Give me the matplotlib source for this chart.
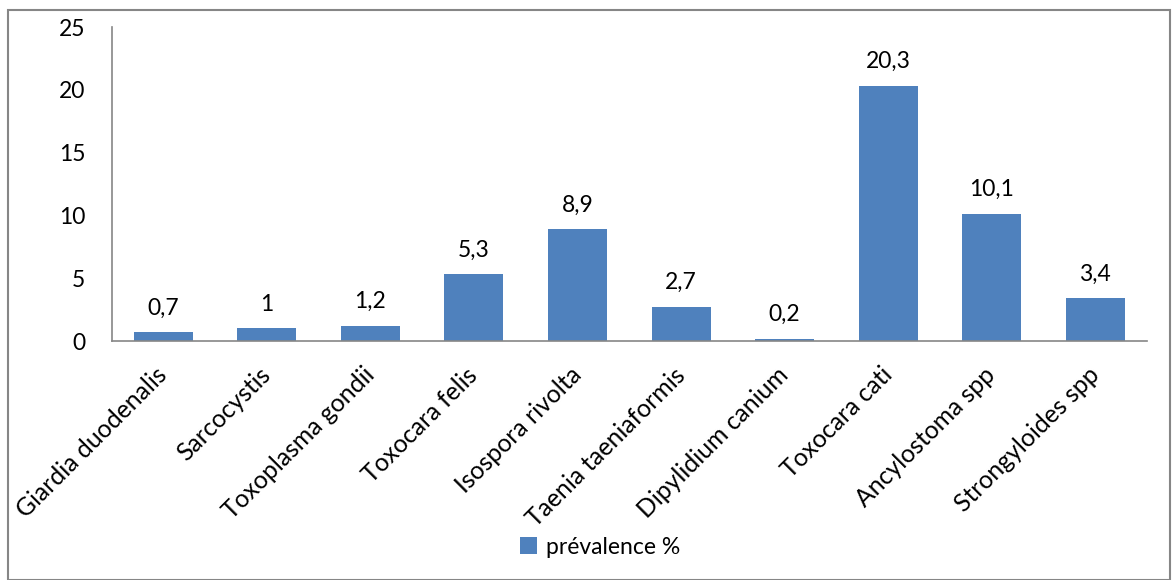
import matplotlib
matplotlib.use("Agg")
import matplotlib.pyplot as plt
import matplotlib.transforms as mtransforms
from matplotlib.patches import Rectangle, Patch

OUTPUT_PLOT = "out.png"

categories = ["Giardia duodenalis", "Sarcocystis", "Toxoplasma gondii", "Toxocara felis",
              "Isospora rivolta", "Taenia taeniaformis", "Dipylidium canium",
              "Toxocara cati", "Ancylostoma spp", "Strongyloides spp"]
prevalence = [0.7, 1, 1.2, 5.3, 8.9, 2.7, 0.2, 20.3, 10.1, 3.4]
yticks = [0, 5, 10, 15, 20, 25]
series_name = "prévalence %"

BAR_COLOR = "#4F81BD"
AXIS_COLOR = "#868686"
FS = 16.5

plt.rcParams["font.family"] = ["Lato", "DejaVu Sans"]

fig = plt.figure(figsize=(11.74, 5.8), dpi=100)
ax = fig.add_axes([0.095, 0.412, 0.882, 0.5414])

x = list(range(len(categories)))
bars = ax.bar(x, prevalence, width=0.57, color=BAR_COLOR)

labels = [f"{v:g}".replace(".", ",") for v in prevalence]
ax.bar_label(bars, labels=labels, padding=10, fontsize=FS)

ax.set_xlim(-0.5, len(categories) - 0.5)
ax.set_ylim(0, 25)
ax.set_yticks(yticks)
ax.tick_params(axis="y", length=0, labelsize=FS, pad=19)
ax.set_xticks(x)
ax.set_xticklabels(categories, rotation=45, ha="right", rotation_mode="anchor",
                   fontsize=17.8)
ax.tick_params(axis="x", length=0, pad=16)
# nudge rotated labels a little to the left
shift = mtransforms.ScaledTranslation(-8 / 100, 0, fig.dpi_scale_trans)
for lbl in ax.get_xticklabels():
    lbl.set_transform(lbl.get_transform() + shift)

for side in ("top", "right"):
    ax.spines[side].set_visible(False)
for side in ("left", "bottom"):
    ax.spines[side].set_color(AXIS_COLOR)
    ax.spines[side].set_linewidth(1.2)

# legend at the bottom
handle = Patch(facecolor=BAR_COLOR, edgecolor="none")
fig.legend([handle], [series_name], loc="center", bbox_to_anchor=(600 / 1174, 1 - 547 / 580),
           frameon=False, fontsize=FS, handlelength=0.75, handleheight=0.75,
           handletextpad=0.4)

# chart border
fig.patches.append(Rectangle((8 / 1174, 0.0), 1162 / 1174, 1 - 10 / 580,
                             transform=fig.transFigure, fill=False,
                             edgecolor=AXIS_COLOR, linewidth=1.5))

fig.savefig(OUTPUT_PLOT, dpi=100)
